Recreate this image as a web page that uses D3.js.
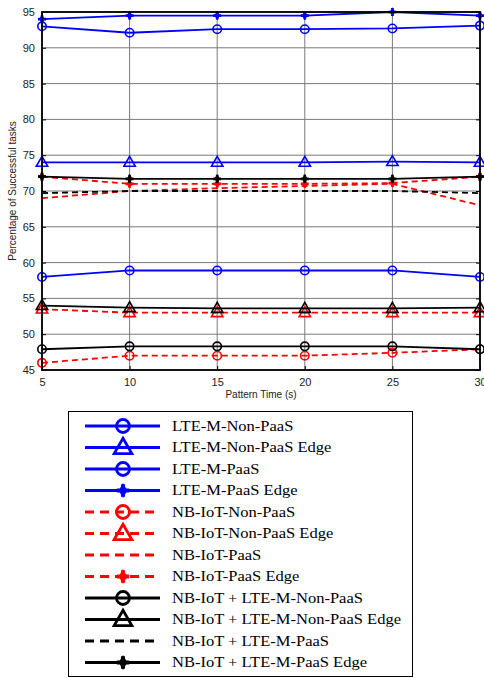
<!DOCTYPE html>
<html><head><meta charset="utf-8">
<script src="https://cdn.jsdelivr.net/npm/d3@7"></script>
<style>body{margin:0;background:#fff}svg{display:block}</style>
</head><body>
<svg id="c" width="484" height="678"></svg>
<script>
const patternTimes = [5, 10, 15, 20, 25, 30];
const xTicks = [5, 10, 15, 20, 25, 30];
const yTicks = [45, 50, 55, 60, 65, 70, 75, 80, 85, 90, 95];

const lteNonPaas      = [58, 58.9, 58.9, 58.9, 58.9, 58];
const lteNonPaasEdge  = [74, 74, 74, 74, 74.1, 74];
const ltePaas         = [93, 92.1, 92.6, 92.6, 92.7, 93.1];
const ltePaasEdge     = [94, 94.5, 94.5, 94.5, 95, 94.5];
const nbNonPaas       = [46, 47, 47, 47, 47.4, 47.9];
const nbNonPaasEdge   = [53.5, 53, 53, 53, 53, 53];
const nbPaas          = [69, 70, 70.4, 70.7, 71, 68];
const nbPaasEdge      = [72, 71, 71, 71, 71.1, 72];
const bothNonPaas     = [47.9, 48.3, 48.3, 48.3, 48.3, 47.9];
const bothNonPaasEdge = [54, 53.7, 53.6, 53.6, 53.6, 53.7];
const bothPaas        = [69.7, 70, 70, 70, 70, 69.7];
const bothPaasEdge    = [72, 71.7, 71.7, 71.7, 71.7, 72];

const seriesNames = ["LTE-M-Non-PaaS","LTE-M-Non-PaaS Edge","LTE-M-PaaS","LTE-M-PaaS Edge",
  "NB-IoT-Non-PaaS","NB-IoT-Non-PaaS Edge","NB-IoT-PaaS","NB-IoT-PaaS Edge",
  "NB-IoT + LTE-M-Non-PaaS","NB-IoT + LTE-M-Non-PaaS Edge","NB-IoT + LTE-M-PaaS","NB-IoT + LTE-M-PaaS Edge"];
const seriesValues = [lteNonPaas, lteNonPaasEdge, ltePaas, ltePaasEdge, nbNonPaas, nbNonPaasEdge,
  nbPaas, nbPaasEdge, bothNonPaas, bothNonPaasEdge, bothPaas, bothPaasEdge];

const colors = ["#0000ff","#0000ff","#0000ff","#0000ff","#ff0000","#ff0000","#ff0000","#ff0000","#000","#000","#000","#000"];
const dashed = [false,false,false,false,true,true,true,true,false,false,true,false];
const markers = ["o","^","o","+","o","^","","+","o","^","","+"];

const svg = d3.select("#c");
const L = 42, R = 480, T = 12, B = 370;
const x = d3.scaleLinear().domain([5, 30]).range([L, R]);
const y = d3.scaleLinear().domain([45, 95]).range([B, T]);

// grid
const g = svg.append("g");
g.selectAll(".gx").data(xTicks).join("line")
  .attr("x1", d => x(d)).attr("x2", d => x(d)).attr("y1", T).attr("y2", B)
  .attr("stroke", "#7a7a7a").attr("stroke-width", 1);
g.selectAll(".gy").data(yTicks).join("line")
  .attr("y1", d => y(d)).attr("y2", d => y(d)).attr("x1", L).attr("x2", R)
  .attr("stroke", "#7a7a7a").attr("stroke-width", 1);

// axes (ticks inside)
const fontAx = "Liberation Sans, Arial, sans-serif";
const ax = svg.append("g").attr("transform", `translate(0,${B})`)
  .call(d3.axisBottom(x).tickValues(xTicks).tickSize(-4).tickPadding(8).tickFormat(d3.format("d")));
const ay = svg.append("g").attr("transform", `translate(${L},0)`)
  .call(d3.axisLeft(y).tickValues(yTicks).tickSize(-4).tickPadding(7).tickFormat(d3.format("d")));
const ar = svg.append("g").attr("transform", `translate(${R},0)`)
  .call(d3.axisRight(y).tickValues(yTicks).tickSize(-4).tickFormat(""));
const at = svg.append("g").attr("transform", `translate(0,${T})`)
  .call(d3.axisTop(x).tickValues(xTicks).tickSize(-4).tickFormat(""));
[ax, ay, ar, at].forEach(a => {
  a.select(".domain").remove();
  a.selectAll("line").attr("stroke", "#000");
  a.selectAll("text").attr("font-family", fontAx).attr("font-size", 11).attr("fill", "#222");
});

// lines
const line = d3.line().x((d, i) => x(patternTimes[i])).y(d => y(d));
function drawMarker(sel, m, cx, cy, col, r, sw) {
  if (m === "o") sel.append("circle").attr("cx", cx).attr("cy", cy).attr("r", r)
      .attr("fill", "none").attr("stroke", col).attr("stroke-width", sw);
  else if (m === "^") sel.append("path")
      .attr("d", d3.symbol().type(d3.symbolTriangle).size(r * r * 3.2)())
      .attr("transform", `translate(${cx},${cy + r * 0.15})`)
      .attr("fill", "none").attr("stroke", col).attr("stroke-width", sw);
  else if (m === "+") {
    sel.append("path").attr("d", d3.symbol().type(d3.symbolCross).size(r * r * 2.0)())
      .attr("transform", `translate(${cx},${cy})`).attr("fill", col);
    sel.append("path").attr("d", d3.symbol().type(d3.symbolDiamond).size(r * r * 1.5)())
      .attr("transform", `translate(${cx},${cy})`).attr("fill", col);
  }
}
const pl = svg.append("g");
seriesValues.forEach((vals, k) => {
  pl.append("path").datum(vals).attr("d", line).attr("fill", "none")
    .attr("stroke", colors[k]).attr("stroke-width", 1.8)
    .attr("stroke-dasharray", dashed[k] ? "6,4" : null);
  if (markers[k]) vals.forEach((v, i) => drawMarker(pl, markers[k], x(patternTimes[i]), y(v), colors[k], 4.2, 1.6));
});

// frame
svg.append("rect").attr("x", L).attr("y", T).attr("width", R - L).attr("height", B - T)
  .attr("fill", "none").attr("stroke", "#000").attr("stroke-width", 1.8);

// labels
svg.append("text").attr("x", (L + R) / 2).attr("y", 398).attr("text-anchor", "middle")
  .attr("font-family", fontAx).attr("font-size", 10).attr("fill", "#222").text("Pattern Time (s)");
svg.append("text").attr("transform", `translate(16,${(T + B) / 2}) rotate(-90)`).attr("text-anchor", "middle")
  .attr("font-family", fontAx).attr("font-size", 10).attr("fill", "#222").text("Percentage of Successful tasks");

// legend
const lg = svg.append("g");
lg.append("rect").attr("x", 68.5).attr("y", 411.5).attr("width", 344).attr("height", 265)
  .attr("fill", "#fff").attr("stroke", "#000").attr("stroke-width", 1);
seriesNames.forEach((name, k) => {
  const yy = 426 + k * 21.5;
  lg.append("line").attr("x1", 85).attr("x2", 160).attr("y1", yy).attr("y2", yy)
    .attr("stroke", colors[k]).attr("stroke-width", 3)
    .attr("stroke-dasharray", dashed[k] ? "9,6" : null);
  if (markers[k]) drawMarker(lg, markers[k], 123, yy, colors[k], markers[k] === "+" ? 6.5 : 6.5, 2.8);
  lg.append("text").attr("x", 172).attr("y", yy + 5)
    .attr("font-family", "Liberation Serif, Times New Roman, serif").attr("font-size", 14.5)
    .attr("fill", "#000").attr("transform", `translate(172,0) scale(1.14,1) translate(-172,0)`).text(name);
});
</script>
</body></html>
